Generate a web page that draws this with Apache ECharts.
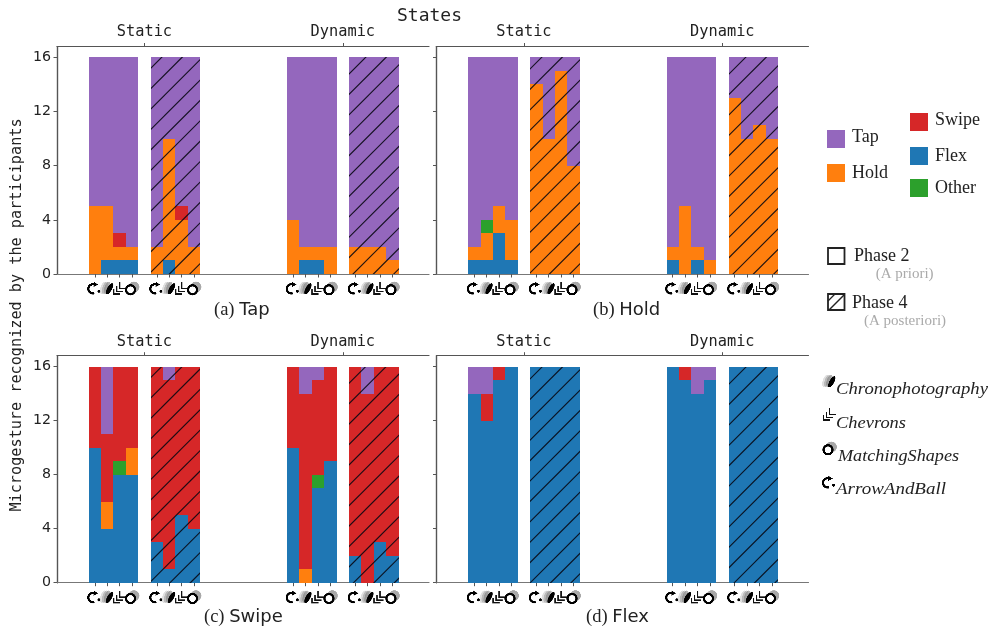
<!DOCTYPE html>
<html><head><meta charset="utf-8">
<style>html,body{margin:0;padding:0;background:#fff}#c{width:995px;height:629px}</style>
<script src="https://cdn.jsdelivr.net/npm/echarts@6/dist/echarts.min.js"></script>
</head><body><div id="c"></div>
<script>
// ---- categories (order within each group of four bars)
const stimuli = ['ArrowAndBall','Chronophotography','Chevrons','MatchingShapes'];
const states = ['Static','Dynamic'];
const yTicks = [0,4,8,12,16];
const gesturesStack = ['Flex','Hold','Other','Swipe','Tap'];
const panelNames = ['Tap','Hold','Swipe','Flex'];
// ---- values: Static P2 x4, Static P4 x4, Dynamic P2 x4, Dynamic P4 x4
const tapFlex  = [0,1,1,1, 0,1,0,0, 0,1,1,0, 0,0,0,0];
const tapHold  = [5,4,1,1, 2,9,4,2, 4,1,1,2, 2,2,2,1];
const tapOther = [0,0,0,0, 0,0,0,0, 0,0,0,0, 0,0,0,0];
const tapSwipe = [0,0,1,0, 0,0,1,0, 0,0,0,0, 0,0,0,0];
const tapTap   = [11,11,13,14, 14,6,11,14, 12,14,14,14, 14,14,14,15];

const holdFlex  = [1,1,3,1, 0,0,0,0, 1,0,1,0, 0,0,0,0];
const holdHold  = [1,2,2,3, 14,10,15,8, 1,5,1,1, 13,10,11,10];
const holdOther = [0,1,0,0, 0,0,0,0, 0,0,0,0, 0,0,0,0];
const holdSwipe = [0,0,0,0, 0,0,0,0, 0,0,0,0, 0,0,0,0];
const holdTap   = [14,12,11,12, 2,6,1,8, 14,11,14,15, 3,6,5,6];

const swipeFlex  = [10,4,8,8, 3,1,5,4, 10,0,7,9, 2,0,3,2];
const swipeHold  = [0,2,0,2, 0,0,0,0, 0,1,0,0, 0,0,0,0];
const swipeOther = [0,0,1,0, 0,0,0,0, 0,0,1,0, 0,0,0,0];
const swipeSwipe = [6,5,7,6, 13,14,11,12, 6,13,7,7, 14,14,13,14];
const swipeTap   = [0,5,0,0, 0,1,0,0, 0,2,1,0, 0,2,0,0];

const flexFlex  = [14,12,15,16, 16,16,16,16, 16,15,14,15, 16,16,16,16];
const flexHold  = [0,0,0,0, 0,0,0,0, 0,0,0,0, 0,0,0,0];
const flexOther = [0,0,0,0, 0,0,0,0, 0,0,0,0, 0,0,0,0];
const flexSwipe = [0,2,1,0, 0,0,0,0, 0,1,0,0, 0,0,0,0];
const flexTap   = [2,2,0,0, 0,0,0,0, 0,0,2,1, 0,0,0,0];

const panelValues = [
  [tapFlex,tapHold,tapOther,tapSwipe,tapTap],
  [holdFlex,holdHold,holdOther,holdSwipe,holdTap],
  [swipeFlex,swipeHold,swipeOther,swipeSwipe,swipeTap],
  [flexFlex,flexHold,flexOther,flexSwipe,flexTap]
];
// ---- styling / layout
const gestureColors = {Tap:'#9467bd',Hold:'#ff7f0e',Swipe:'#d62728',Flex:'#1f77b4',Other:'#2ca02c'};
const groupStarts = [3.05,8.05,19.05,24.05];
const groupHatched = [false,true,false,true];
const grids = [
  {left:57,top:46.5,width:372,height:227.5},
  {left:436.5,top:46.5,width:372,height:227.5},
  {left:57,top:355.7,width:372,height:227},
  {left:436.5,top:355.7,width:372,height:227}
];
const MONO='"DejaVu Sans Mono"', SERIF='"Liberation Serif"', SANS='"DejaVu Sans"';
const HATCH_PERIOD=20.4, HATCH_PHASES=[15,7.4,18.3,11.4];

function hatch(color,phase){
  const n=102, c=document.createElement('canvas');
  c.width=c.height=n; const g=c.getContext('2d');
  g.fillStyle=color; g.fillRect(0,0,n,n);
  g.strokeStyle='rgba(8,8,18,0.9)'; g.lineWidth=1.15;
  for(let s=phase-HATCH_PERIOD*2;s<n*2+HATCH_PERIOD;s+=HATCH_PERIOD){
    g.beginPath(); g.moveTo(s+2,-2); g.lineTo(-2,s+2); g.stroke();
  }
  return {image:c,repeat:'repeat'};
}
const hatched=HATCH_PHASES.map(ph=>{const m={};Object.keys(gestureColors).forEach(k=>m[k]=hatch(gestureColors[k],ph));return m;});

// ---- icons
const ICON=3;
function icon(draw){
  const c=document.createElement('canvas'); c.width=c.height=15*ICON;
  const g=c.getContext('2d'); g.scale(ICON,ICON); draw(g); return c;
}
const icons={
  ArrowAndBall:icon(g=>{
    g.strokeStyle='#000';g.lineWidth=2.2;g.beginPath();g.arc(5.6,7.8,4.6,Math.PI*0.4,Math.PI*1.7);g.stroke();
    g.fillStyle='#000';g.beginPath();g.moveTo(6.4,0.8);g.lineTo(10.8,3.6);g.lineTo(6.2,6);g.fill();
    g.beginPath();g.arc(11.6,10.2,1.5,0,7);g.fill();
  }),
  Chronophotography:icon(g=>{
    [[3.5,.25],[5.5,.4],[7.5,.6]].forEach(p=>{g.save();g.translate(p[0],7);g.rotate(.3);g.fillStyle='rgba(130,130,130,'+p[1]+')';g.beginPath();g.ellipse(0,0,2.8,6.4,0,0,7);g.fill();g.restore();});
    g.save();g.translate(9.8,7.8);g.rotate(.5);g.fillStyle='#000';g.beginPath();g.ellipse(0,0,2.4,6.2,0,0,7);g.fill();g.restore();
  }),
  Chevrons:icon(g=>{
    g.strokeStyle='#111';g.lineWidth=1.5;g.beginPath();
    g.moveTo(7.5,1);g.lineTo(7.5,7.5);g.lineTo(14,7.5);
    g.moveTo(4.5,5);g.lineTo(4.5,10.5);g.lineTo(11,10.5);
    g.moveTo(1.5,8);g.lineTo(1.5,13);g.lineTo(8,13);
    g.stroke();
  }),
  MatchingShapes:icon(g=>{
    g.fillStyle='#a8a8a8';g.beginPath();g.arc(9.4,6,5.4,0,7);g.fill();
    g.strokeStyle='#000';g.lineWidth=2.2;g.fillStyle='#fff';g.beginPath();g.arc(6,8.8,4.5,0,7);g.fill();g.stroke();
  })
};

// ---- axes and series
const barCenters=[];
groupStarts.forEach(g=>stimuli.forEach((s,i)=>barCenters.push(g+i)));
const topCenters=[(groupStarts[0]+groupStarts[1]+3)/2,(groupStarts[2]+groupStarts[3]+3)/2];

function renderBarFor(panel){
  return function(params,api){
    const x=api.value(0), a=api.coord([x-0.5,api.value(1)]), b=api.coord([x+0.5,api.value(2)]);
    const x0=Math.round(a[0]), x1=Math.round(b[0]), y0=Math.round(a[1]), y1=Math.round(b[1]);
    return {type:'rect',shape:{x:x0,y:y1,width:x1-x0,height:y0-y1},
      style:{fill:api.value(3)?hatched[panel][params.seriesName]:gestureColors[params.seriesName]}};
  };
}
function renderIcon(params,api){
  const p=api.coord([api.value(0),0]);
  return {type:'image',style:{image:icons[stimuli[api.value(1)]],x:p[0]-7.5,y:p[1]+7,width:15,height:15}};
}

const xAxis=[],yAxis=[],series=[];
grids.forEach((g,p)=>{
  xAxis.push({type:'value',gridIndex:p,min:0,max:30,position:'bottom',splitLine:{show:false},
    axisLine:{show:true,onZero:false,lineStyle:{color:'#777',width:1.2}},
    axisTick:{show:true,customValues:barCenters,length:3.5,lineStyle:{color:'#555',width:1}},
    axisLabel:{show:false}});
  xAxis.push({type:'value',gridIndex:p,min:0,max:30,position:'top',splitLine:{show:false},
    axisLine:{show:true,onZero:false,lineStyle:{color:'#555',width:1.2}},
    axisTick:{show:true,customValues:topCenters,length:3.5,lineStyle:{color:'#555',width:1}},
    axisLabel:{show:true,customValues:topCenters,margin:6.5,hideOverlap:false,
      fontFamily:MONO,fontSize:15.3,color:'#222',
      formatter:v=>states[topCenters.indexOf(v)]}});
  yAxis.push({type:'value',gridIndex:p,min:0,max:16.8,interval:4,position:'left',splitLine:{show:false},
    axisLine:{show:true,lineStyle:{color:'#555',width:1.2}},
    axisTick:{show:true,customValues:yTicks,length:3.5,lineStyle:{color:'#555',width:1}},
    axisLabel:{show:p%2===0,customValues:yTicks,margin:6,fontFamily:SANS,fontSize:14.2,color:'#222'}});
  yAxis.push({type:'value',gridIndex:p,min:0,max:16.8,interval:4,position:'right',
    splitLine:{show:false},axisTick:{show:false},axisLabel:{show:false},
    axisLine:{show:true,lineStyle:{color:'#555',width:1.2}}});
  const cum=new Array(16).fill(0);
  gesturesStack.forEach((name,k)=>{
    const vals=panelValues[p][k];
    series.push({type:'custom',name:name,xAxisIndex:p*2,yAxisIndex:p*2,animation:false,silent:true,
      clip:false,renderItem:renderBarFor(p),encode:{x:0,y:[1,2]},
      data:vals.map((v,i)=>{
        const grp=Math.floor(i/4), start=cum[i]; cum[i]+=v;
        return [groupStarts[grp]+i%4,start,start+v,groupHatched[grp]?1:0];
      }).filter(d=>d[2]>d[1])});
  });
  series.push({type:'custom',name:'stimulus icons',xAxisIndex:p*2,yAxisIndex:p*2,animation:false,silent:true,
    clip:false,renderItem:renderIcon,encode:{x:0,y:2},
    data:barCenters.map((c,i)=>[c,i%4,0])});
});

// ---- free text and legends
function txt(x,y,text,font,size,color,extra){
  return Object.assign({type:'text',x:x,y:y,silent:true,
    style:{text:text,fontFamily:font,fontSize:size,fill:color||'#222',textVerticalAlign:'middle',textAlign:'left'}},extra||{});
}
function swatch(x,y,c){return {type:'rect',silent:true,shape:{x:x,y:y,width:18,height:18},style:{fill:c}};}
const measure=document.createElement('canvas').getContext('2d');
function italicFit(x,y,text,target){
  const size=16.5; measure.font='italic '+size+'px "Liberation Serif"';
  const s=target/measure.measureText(text).width;
  return {type:'text',x:x,y:y,scaleX:s,silent:true,style:{text:text,font:'italic '+size+'px "Liberation Serif"',fill:'#222',textVerticalAlign:'middle'}};
}
function iconImg(x,y,name){return {type:'image',silent:true,style:{image:icons[name],x:x,y:y,width:15,height:15}};}
function caption(x,y,a,b){
  return {type:'text',x:x,y:y,silent:true,style:{text:'{s|'+a+' }{d|'+b+'}',textVerticalAlign:'middle',
    rich:{s:{fontFamily:SERIF,fontSize:18.5,fill:'#222'},d:{fontFamily:SANS,fontSize:18,fill:'#222'}}}};
}
const graphic=[
  txt(397,16,'States',MONO,18),
  txt(16,315,'Microgesture recognized by the participants',MONO,15.2,'#222',{rotation:Math.PI/2,style:{text:'Microgesture recognized by the participants',fontFamily:MONO,fontSize:15.2,fill:'#222',textAlign:'center',textVerticalAlign:'middle'},x:17}),
  caption(214,310,'(a)','Tap'),caption(593,310,'(b)','Hold'),caption(204,617,'(c)','Swipe'),caption(586,617,'(d)','Flex'),
  swatch(827,130,gestureColors.Tap),swatch(827,164,gestureColors.Hold),
  swatch(910,113,gestureColors.Swipe),swatch(910,147,gestureColors.Flex),swatch(910,179,gestureColors.Other),
  txt(852,137,'Tap',SERIF,18),txt(852,173,'Hold',SERIF,18),
  txt(935,120,'Swipe',SERIF,18),txt(935,156,'Flex',SERIF,18),txt(935,188,'Other',SERIF,18),
  {type:'rect',silent:true,shape:{x:828,y:248,width:16.5,height:16},style:{fill:'#fff',stroke:'#222',lineWidth:1.8}},
  txt(854,256,'Phase 2',SERIF,18),txt(875.7,274.5,'(A priori)',SERIF,15,'#aaa'),
  {type:'rect',silent:true,shape:{x:828,y:294,width:16.5,height:16},style:{fill:'#fff',stroke:'#222',lineWidth:1.8}},
  {type:'line',silent:true,shape:{x1:829,y1:310,x2:844,y2:295},style:{stroke:'#222',lineWidth:1.4}},
  {type:'line',silent:true,shape:{x1:828,y1:301,x2:835,y2:294},style:{stroke:'#222',lineWidth:1.2}},
  txt(852,303,'Phase 4',SERIF,18),txt(864,321,'(A posteriori)',SERIF,15,'#aaa'),
  iconImg(822,374,'Chronophotography'),italicFit(836,390,'Chronophotography',152),
  iconImg(822,407,'Chevrons'),italicFit(836,424,'Chevrons',70),
  iconImg(822,441,'MatchingShapes'),italicFit(838,457,'MatchingShapes',121),
  iconImg(822,475,'ArrowAndBall'),italicFit(836,490,'ArrowAndBall',110)
];

const chart=echarts.init(document.getElementById('c'),null,{renderer:'canvas'});
chart.setOption({animation:false,backgroundColor:'#fff',
  grid:grids.map(g=>Object.assign({show:false,containLabel:false},g)),
  xAxis:xAxis,yAxis:yAxis,series:series,graphic:{elements:graphic}});
</script></body></html>
